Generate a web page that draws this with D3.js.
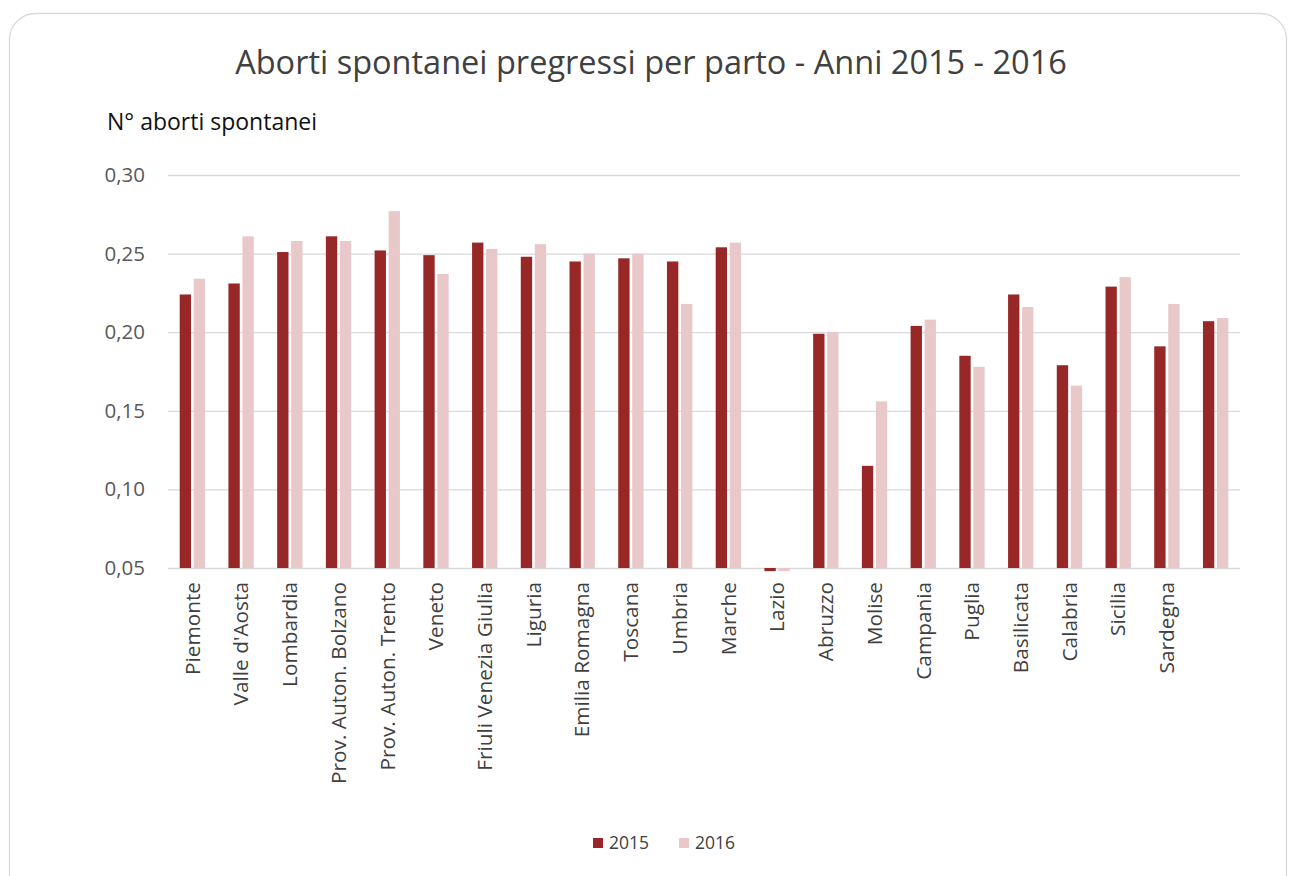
<!DOCTYPE html>
<html lang="it">
<head>
<meta charset="UTF-8">
<title>Aborti spontanei pregressi per parto</title>
<script src="https://cdn.jsdelivr.net/npm/d3@7/dist/d3.min.js"></script>
<style>
  * { margin: 0; padding: 0; }
  html, body { background: #fff; overflow: hidden; }
  svg { display: block; }
  text { font-family: "Open Sans", "Noto Sans", sans-serif; }
</style>
</head>
<body>
<svg></svg>
<script>
  // dati
  const regioni = ['Piemonte', "Valle d'Aosta", 'Lombardia', 'Prov. Auton. Bolzano', 'Prov. Auton. Trento',
    'Veneto', 'Friuli Venezia Giulia', 'Liguria', 'Emilia Romagna', 'Toscana', 'Umbria', 'Marche',
    'Lazio', 'Abruzzo', 'Molise', 'Campania', 'Puglia', 'Basilicata', 'Calabria', 'Sicilia', 'Sardegna', ''];
  const anni = ['2015', '2016'];
  const v2015 = [0.224, 0.231, 0.251, 0.261, 0.252, 0.249, 0.257, 0.248, 0.245, 0.247, 0.245, 0.254,
    0.048, 0.199, 0.115, 0.204, 0.185, 0.224, 0.179, 0.229, 0.191, 0.207];
  const v2016 = [0.234, 0.261, 0.258, 0.258, 0.277, 0.237, 0.253, 0.256, 0.250, 0.250, 0.218, 0.257,
    0.048, 0.200, 0.156, 0.208, 0.178, 0.216, 0.166, 0.235, 0.218, 0.209];
  const yTicks = [0.05, 0.10, 0.15, 0.20, 0.25, 0.30];
  const colori = ['#982828', '#e8c8c9'];

  const width = 1296, height = 876;
  const svg = d3.select('svg').attr('width', width).attr('height', height);
  const margin = { left: 168, right: 56, top: 175, bottom: 308 };
  const innerWidth = width - margin.left - margin.right;
  const innerHeight = height - margin.top - margin.bottom;

  // cornice (continua oltre il bordo inferiore)
  svg.append('path')
    .attr('d', 'M9.5,876 V39.5 A26,26 0 0 1 35.5,13.5 H1260.5 A26,26 0 0 1 1286.5,39.5 V876')
    .attr('fill', 'none').attr('stroke', '#d9d9d9').attr('stroke-width', 1.3);

  svg.append('text')
    .attr('x', 651).attr('y', 74)
    .attr('text-anchor', 'middle')
    .attr('font-size', 32.5)
    .attr('fill', '#404040')
    .text('Aborti spontanei pregressi per parto - Anni 2015 - 2016');

  svg.append('text')
    .attr('x', 107).attr('y', 130)
    .attr('font-size', 23)
    .attr('fill', '#111')
    .text('N° aborti spontanei');

  const data = regioni.map((r, i) => ({ regione: r, i: i, valori: [v2015[i], v2016[i]] }));

  const x0 = d3.scaleBand()
    .domain(d3.range(regioni.length))
    .range([0, innerWidth])
    .paddingInner(0.48)
    .paddingOuter(0.24);

  const x1 = d3.scaleBand()
    .domain(anni)
    .range([0, x0.bandwidth()])
    .paddingInner(0.19);

  const yScale = d3.scaleLinear()
    .domain([0.05, 0.30])
    .range([innerHeight, 0]);

  const g = svg.append('g')
    .attr('transform', `translate(${margin.left},${margin.top})`);

  // griglia e etichette asse y
  const yAxis = g.append('g')
    .call(d3.axisLeft(yScale).tickValues(yTicks)
      .tickSize(-innerWidth).tickPadding(23)
      .tickFormat(d => d3.format('.2f')(d).replace('.', ',')));
  yAxis.select('.domain').remove();
  yAxis.selectAll('.tick line').attr('stroke', '#d9d9d9').attr('stroke-width', 1.3);
  yAxis.selectAll('.tick text')
    .attr('font-size', 20.5).attr('fill', '#595959')
    .attr('font-family', '"Open Sans", sans-serif');

  // barre
  const gruppi = g.selectAll('.gruppo')
    .data(data).enter()
    .append('g')
    .attr('transform', d => `translate(${x0(d.i)},0)`);

  gruppi.selectAll('rect')
    .data(d => d.valori.map((v, k) => ({ anno: anni[k], v: v, k: k })))
    .enter().append('rect')
    .attr('x', d => x1(d.anno))
    .attr('width', x1.bandwidth())
    .attr('y', d => Math.min(yScale(d.v), yScale(0.05)))
    .attr('height', d => Math.abs(yScale(0.05) - yScale(d.v)))
    .attr('fill', d => colori[d.k]);

  // etichette categorie (ruotate a mano, senza transform sul testo)
  const etichette = g.append('g')
    .attr('transform', `translate(0,${innerHeight})`);
  etichette.selectAll('g')
    .data(data.filter(d => d.regione !== '')).enter()
    .append('g')
    .attr('transform', d => `translate(${x0(d.i) + x0.bandwidth() / 2},14) rotate(-90)`)
    .append('text')
    .attr('text-anchor', 'end')
    .attr('dy', '0.35em')
    .attr('font-size', 20.8).attr('fill', '#404040')
    .text(d => d.regione);

  // legenda
  const legenda = svg.append('g').attr('transform', 'translate(593,838)');
  anni.forEach((a, k) => {
    const lg = legenda.append('g').attr('transform', `translate(${k * 86},0)`);
    lg.append('rect').attr('width', 10).attr('height', 10).attr('fill', colori[k]);
    lg.append('text').attr('x', 16).attr('y', 11)
      .attr('font-size', 17.5).attr('fill', '#404040').text(a);
  });
</script>
</body>
</html>
